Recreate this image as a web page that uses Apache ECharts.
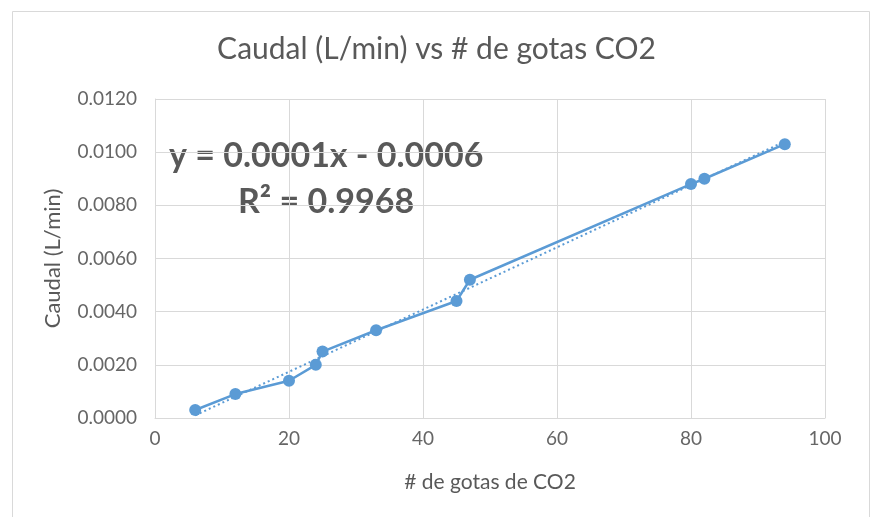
<!DOCTYPE html>
<html>
<head>
<meta charset="utf-8">
<script src="https://cdn.jsdelivr.net/npm/echarts@6/dist/echarts.min.js"></script>
<style>html,body{margin:0;padding:0;background:#fff}#c{width:873px;height:517px}</style>
</head>
<body>
<div id="c"></div>
<script>
const gotas = [6, 12, 20, 24, 25, 33, 45, 47, 80, 82, 94];
const caudal = [0.0003, 0.0009, 0.0014, 0.0020, 0.0025, 0.0033, 0.0044, 0.0052, 0.0088, 0.0090, 0.0103];
const trendX = [6, 94];
const trendY = [0.0001, 0.0104];
const titleText = 'Caudal (L/min) vs # de gotas CO2';
const xAxisName = '# de gotas de CO2';
const yAxisName = 'Caudal (L/min)';
const eqText = 'y = 0.0001x - 0.0006';
const r2Text = 'R² = 0.9968';

const chart = echarts.init(document.getElementById('c'), null, {renderer: 'canvas'});
const gray = '#595959';
const font = 'Lato, "Open Sans", sans-serif';
chart.setOption({
  animation: false,
  backgroundColor: '#fff',
  title: {
    text: titleText, left: 'center', top: 29,
    textStyle: {fontFamily: font, fontSize: 30, fontWeight: 'normal', color: gray}
  },
  grid: {left: 155, right: 48, top: 99, bottom: 99},
  xAxis: {
    type: 'value', min: 0, max: 100, interval: 20,
    name: xAxisName, nameLocation: 'middle', nameGap: 54,
    nameTextStyle: {fontFamily: font, fontSize: 21, color: gray},
    axisLine: {show: true, lineStyle: {color: '#d9d9d9'}},
    axisTick: {show: false},
    axisLabel: {fontFamily: font, fontSize: 19, color: '#666', margin: 11},
    splitLine: {show: true, lineStyle: {color: '#d9d9d9'}}
  },
  yAxis: {
    type: 'value', min: 0, max: 0.012, interval: 0.002,
    name: yAxisName, nameLocation: 'middle', nameGap: 91,
    nameTextStyle: {fontFamily: font, fontSize: 22, color: gray},
    axisLine: {show: true, lineStyle: {color: '#d9d9d9'}},
    axisTick: {show: false},
    axisLabel: {fontFamily: font, fontSize: 19, color: '#666', margin: 18,
      formatter: v => v.toFixed(4)},
    splitLine: {show: true, lineStyle: {color: '#d9d9d9'}}
  },
  series: [
    {
      type: 'line',
      data: trendX.map((x, i) => [x, trendY[i]]),
      symbol: 'none',
      lineStyle: {color: '#5B9BD5', width: 2, type: [2, 3]},
      z: 1
    },
    {
      type: 'line',
      data: gotas.map((x, i) => [x, caudal[i]]),
      symbol: 'circle', symbolSize: 12,
      itemStyle: {color: '#5B9BD5'},
      lineStyle: {color: '#5B9BD5', width: 2.5},
      z: 2
    }
  ],
  graphic: [
    {type: 'rect', left: 10, top: 9, shape: {width: 857, height: 520},
     style: {fill: 'none', stroke: '#d9d9d9', lineWidth: 1}, silent: true},
    {type: 'text', left: 169, top: 139,
     style: {text: eqText, fontFamily: font, fontSize: 34, fontWeight: 'bold', fill: gray}},
    {type: 'text', left: 238, top: 185,
     style: {text: r2Text, fontFamily: font, fontSize: 34, fontWeight: 'bold', fill: gray}}
  ]
});
</script>
</body>
</html>
